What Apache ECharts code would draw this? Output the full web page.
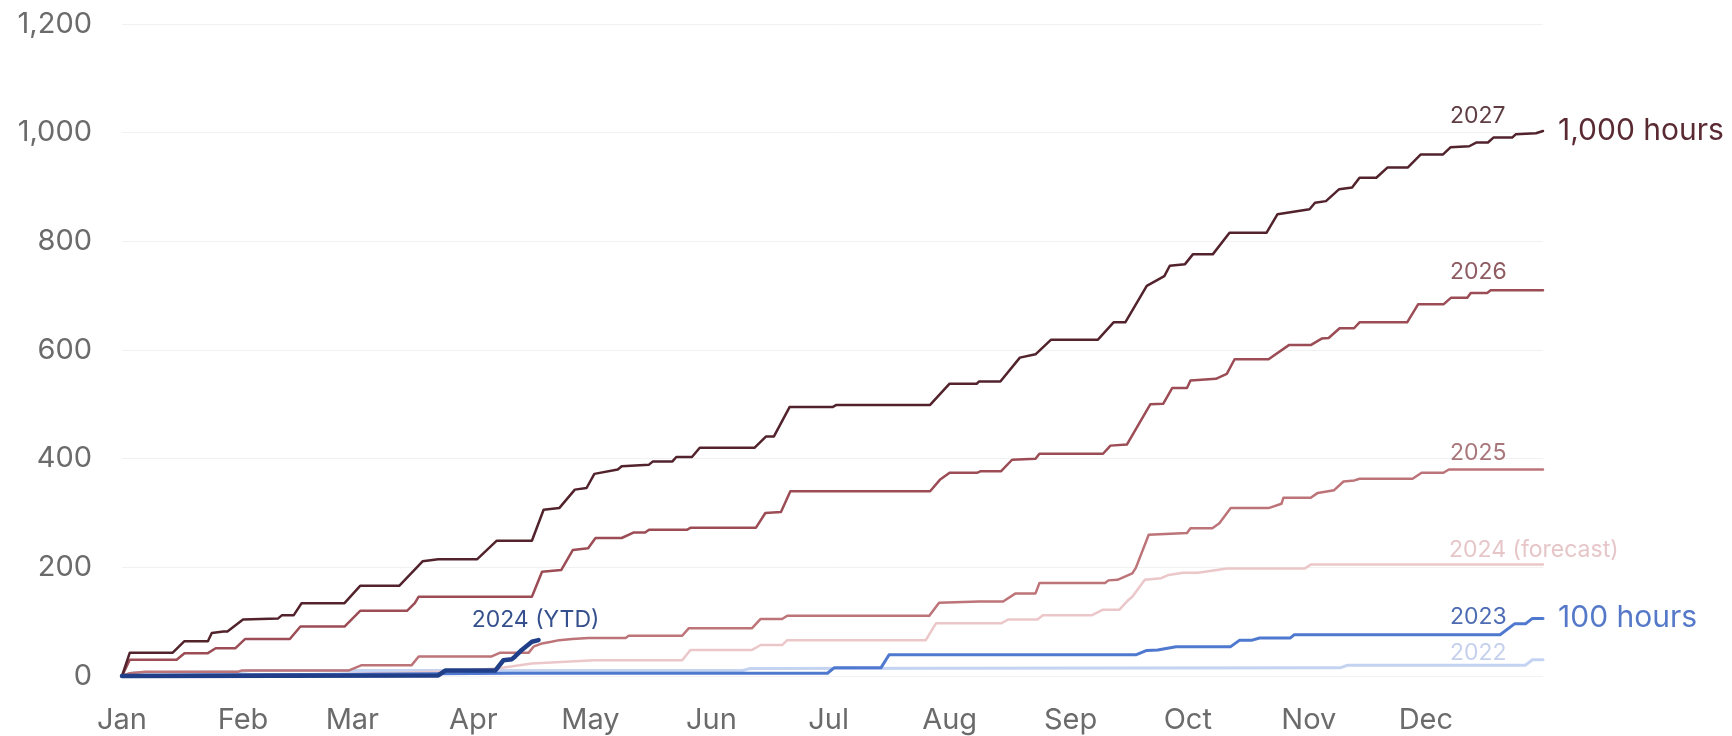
<!DOCTYPE html>
<html>
<head>
<meta charset="utf-8">
<script src="https://cdn.jsdelivr.net/npm/echarts@6/dist/echarts.min.js"></script>
<style>
html,body{margin:0;padding:0;background:#ffffff;}
#chart{width:1732px;height:736px;}
</style>
</head>
<body>
<div id="chart"></div>
<script>
// ---- tick labels ----
const MONTHS = ['Jan','Feb','Mar','Apr','May','Jun','Jul','Aug','Sep','Oct','Nov','Dec'];
const MONTH_START_DAYS = [0,31,59,90,120,151,181,212,243,273,304,334];
const Y_MIN = 0, Y_MAX = 1200, Y_STEP = 200;
const DAY_MAX = 364;

// ---- series: [day of year, cumulative hours] ----
const S2022 = [[0,0],[3,6],[30,8],[33,10],[159,10],[161,14],[312,15],[314,20],[359.5,20],[361.3,30],[364,30]];
const S2023 = [[0,0],[20,2],[60,3],[100,5],[180.7,5],[182.4,15],[194.4,15],[196.5,39],[259.7,39],[262.5,47],[265.3,48],[270,54],[284,54],[286.3,66],[289.5,66],[291.4,70],[299.3,70],[300.3,76],[353,76],[356.7,96],[359.5,96],[361.3,106],[364,106]];
const S2024F = [[0,0],[55,3],[82,8],[96,14],[105,23],[121,29],[143.5,29],[145.6,48],[161.4,48],[163.6,57],[169.1,57],[170.4,66],[205.9,66],[208.5,97],[225.2,97],[227,104],[234.5,104],[235.9,112],[248.5,112],[251.3,122],[255.5,122],[257.8,140],[258.8,146],[262,177],[266.2,180],[268.1,186],[271.8,190],[275.6,190],[277.4,192],[283,198],[303,198],[304.5,205],[364,205]];
const S2024YTD = [[0,0],[81,1],[82.8,10],[95.6,10],[97.7,29],[99.9,31],[100.7,36],[102.4,48],[105,63],[106.7,66]];
const S2025 = [[0,0],[2,5],[6,8],[29.8,8],[30.6,10],[58,10],[61.4,20],[74.2,20],[76,36],[94.7,36],[96.9,43],[104.2,43],[105.4,54],[107.6,60],[110,63],[112,66],[115.3,68],[119.5,70],[129,70],[129.8,74],[143.5,74],[145.2,88],[161.4,88],[163.6,105],[169.1,105],[170.4,111],[206.8,111],[209.3,135],[219.6,137],[225.7,137],[228.9,152],[234,152],[235,171],[251.8,171],[252.7,176],[255,177],[256.9,183],[258.8,189],[259.7,199],[263,260],[272.8,263],[273.7,272],[279.3,272],[281.1,281],[284,309],[293.7,309],[297,317],[297.5,328],[304.5,328],[306.3,337],[310.5,342],[312.9,358],[315.7,360],[317,363],[330.6,363],[332.9,374],[338.5,374],[339.9,380],[364,380]];
const S2026 = [[0,0],[2,30],[14,30],[16,42],[22,42],[24,51],[29,51],[31.5,68],[43,68],[45.7,91],[57,91],[61,120],[73,120],[75,134],[76,146],[105,146],[107.6,192],[112.5,195],[115.5,232],[119.4,235],[121.3,254],[128,254],[131,264],[134,264],[135,269],[144.7,269],[145.7,273],[162.4,273],[164.8,300],[168.8,302],[171.2,340],[207,340],[209.5,361],[212,374],[219,374],[220,377],[225.2,377],[228,398],[234,400],[235,409],[251.3,409],[253.2,424],[257.4,426],[263.4,500],[266.7,501],[269,530],[272.8,530],[273.7,544],[280.2,547],[283,556],[285,583],[293.7,583],[298.9,609],[304.5,609],[307.3,621],[309.1,622],[311.9,640],[315.6,640],[317,651],[329.2,651],[332,684],[338.5,684],[340.4,696],[344.6,696],[345.5,705],[349.7,705],[350.6,710],[364,710]];
const S2027 = [[0,0],[2,43],[13,43],[16,64],[22,64],[23,79],[26,82],[27,82],[31,104],[40,106],[41,112],[44,112],[46,134],[57,134],[61,166],[71,166],[77,211],[81,215],[91,215],[96,249],[105,249],[108,306],[112,309],[116,343],[119,346],[121,372],[127,380],[128,386],[135,389],[136,395],[141,395],[142,403],[146,403],[148,420],[162,420],[165,441],[167,441],[171,495],[182,495],[183,499],[207,499],[212,538],[219,538],[219.5,542],[225,542],[230,586],[234,592],[238,619],[250,619],[254,651],[257,651],[262.5,718],[267,736],[268.4,755],[272.3,758],[274.3,776],[279.4,776],[283.7,816],[293.2,816],[296,850],[304.2,859],[305.6,871],[308.4,874],[311.8,896],[315.1,899],[317,917],[321.3,917],[324.2,936],[329.4,936],[332.7,960],[338.4,960],[340.3,973],[345.1,975],[347,982],[349.9,982],[351.3,991],[356.1,991],[357,997],[362.2,999],[364,1003]];

const FONT = 'Inter, "Noto Sans", sans-serif';
const last = a => a[a.length - 1];

function yearLabel(arr, text, color, dx, dy, align) {
  return {
    symbol: 'circle', symbolSize: 0, silent: true,
    itemStyle: {color: 'rgba(0,0,0,0)'},
    label: {show: true, formatter: text, position: 'inside', offset: [dx, dy],
      align: align || 'left', verticalAlign: 'middle', color: color,
      fontSize: 23, fontFamily: FONT},
    data: [{coord: last(arr)}]
  };
}

function line(name, data, color, width, z, extra) {
  return Object.assign({
    name: name, type: 'line', data: data, showSymbol: false, symbol: 'none',
    silent: true, z: z, clip: false,
    lineStyle: {color: color, width: width, cap: 'round', join: 'round'}
  }, extra || {});
}

const chart = echarts.init(document.getElementById('chart'), null, {renderer: 'canvas'});
chart.setOption({
  animation: false,
  backgroundColor: '#ffffff',
  grid: {left: 122, right: 189, top: 24, bottom: 60, containLabel: false},
  xAxis: {
    type: 'value', min: 0, max: DAY_MAX,
    axisLine: {show: false}, axisTick: {show: false}, splitLine: {show: false},
    axisLabel: {
      customValues: MONTH_START_DAYS,
      formatter: v => MONTHS[MONTH_START_DAYS.indexOf(v)] || '',
      color: '#6b6b6b', fontSize: 29, fontFamily: FONT, margin: 30
    }
  },
  yAxis: {
    type: 'value', min: Y_MIN, max: Y_MAX, interval: Y_STEP,
    axisLine: {show: false}, axisTick: {show: false},
    splitLine: {lineStyle: {color: '#f1f1f1', width: 1}},
    axisLabel: {
      formatter: v => v.toString().replace(/\B(?=(\d{3})+(?!\d))/g, ','),
      color: '#6b6b6b', fontSize: 29, fontFamily: FONT, margin: 30
    }
  },
  series: [
    line('2022', S2022, '#c3d3f1', 3, 2, {markPoint: yearLabel(S2022, '2022', '#c5d1ec', -93, -7)}),
    line('2024 (forecast)', S2024F, '#ebc7c9', 2.5, 3, {markPoint: yearLabel(S2024F, '2024 (forecast)', '#e6c6c9', -94, -15)}),
    line('2023', S2023, '#4f78cf', 3, 4, {
      markPoint: yearLabel(S2023, '2023', '#4d6cb3', -93, -1),
      endLabel: {show: true, formatter: '100 hours', distance: 15, color: '#5579c8', fontSize: 30, fontFamily: FONT}
    }),
    line('2025', S2025, '#bd7479', 2.5, 5, {markPoint: yearLabel(S2025, '2025', '#a9767b', -93, -16)}),
    line('2026', S2026, '#9b4c55', 2.5, 6, {markPoint: yearLabel(S2026, '2026', '#8d5b61', -93, -18)}),
    line('2027', S2027, '#52232c', 2.5, 7, {
      markPoint: yearLabel(S2027, '2027', '#5e3d43', -93, -15),
      endLabel: {show: true, formatter: '1,000 hours', distance: 15, color: '#5a2a33', fontSize: 30, fontFamily: FONT}
    }),
    line('2024 (YTD)', S2024YTD, '#203f88', 4.5, 8, {markPoint: yearLabel(S2024YTD, '2024 (YTD)', '#35508c', -3, -20, 'center')})
  ]
});
</script>
</body>
</html>
